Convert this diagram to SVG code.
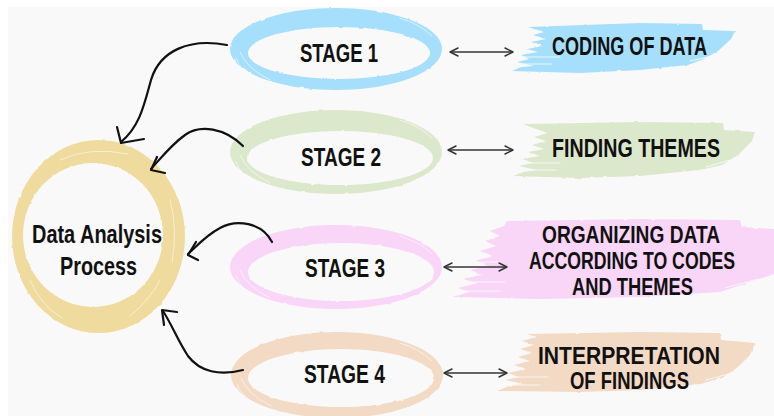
<svg xmlns="http://www.w3.org/2000/svg" width="774" height="416" viewBox="0 0 774 416">
  <defs>
    <style>
      .t { font-family: "Liberation Sans Narrow", "Liberation Sans", "DejaVu Sans", sans-serif; font-weight: bold; fill: #111; }
      .st { font-size: 26px; }
      .lb { font-size: 25px; }
      .ml { font-size: 23px; }
      .ctr { font-size: 25px; }
      .curve { fill: none; stroke: #111; stroke-width: 2.2; stroke-linecap: round; stroke-linejoin: round; }
      .dbl { fill: none; stroke: #333; stroke-width: 1.4; marker-start: url(#chev); marker-end: url(#chev); }
      .streak { stroke: #f9f9f9; stroke-width: 1.2; stroke-linecap: round; opacity: 0.85; }
      .bristle { fill: none; stroke: #ffffff; stroke-width: 1; stroke-linecap: round; opacity: 0.55; }
    </style>
    <filter id="rough" x="-5%" y="-10%" width="110%" height="120%">
      <feTurbulence type="fractalNoise" baseFrequency="0.12" numOctaves="2" seed="4" result="n"/>
      <feDisplacementMap in="SourceGraphic" in2="n" scale="2.2" xChannelSelector="R" yChannelSelector="G"/>
    </filter>
    <marker id="chev" viewBox="0 0 10 10" refX="9" refY="5" markerWidth="10" markerHeight="10" markerUnits="userSpaceOnUse" orient="auto-start-reverse">
      <path d="M1,1 L9,5 L1,9" fill="none" stroke="#333" stroke-width="1.4" stroke-linecap="round" stroke-linejoin="round"/>
    </marker>
  </defs>

  <!-- canvas -->
  <rect x="0" y="0" width="774" height="416" fill="#ffffff"/>
  <rect x="8" y="7" width="766" height="409" fill="#f9f9f9"/>

  <!-- centre ring -->
  <g id="process">
    <path filter="url(#rough)" fill="#efdb9d" fill-rule="evenodd"
      d="M12,236.5 a86.5,96.5 0 1,0 173,0 a86.5,96.5 0 1,0 -173,0 Z M23,235 a70,72 0 1,0 140,0 a70,72 0 1,0 -140,0 Z"/>
    <path class="bristle" d="M30,280 Q40,305 62,318 M170,200 Q178,230 172,262 M60,160 Q90,146 128,154 M160,280 Q150,300 130,316"/>
    <text class="t ctr" x="32" y="243" textLength="130" lengthAdjust="spacingAndGlyphs">Data Analysis</text>
    <text class="t ctr" x="60" y="275" textLength="77" lengthAdjust="spacingAndGlyphs">Process</text>
  </g>

  <!-- stage ovals -->
  <g id="stage1">
    <path filter="url(#rough)" fill="#a6dffb" fill-rule="evenodd"
      d="M230,49 a106,41 0 1,0 212,0 a106,41 0 1,0 -212,0 Z M248,53 a91,26 0 1,0 182,0 a91,26 0 1,0 -182,0 Z"/>
    <path class="bristle" d="M236,58 Q240,72 262,82 M240,52 Q246,68 270,80 M400,18 Q420,24 432,36"/>
    <text class="t st" x="300" y="62" textLength="78" lengthAdjust="spacingAndGlyphs">STAGE 1</text>
  </g>

  <g id="stage2">
    <path filter="url(#rough)" fill="#dce8cc" fill-rule="evenodd"
      d="M230,152 a106,42 0 1,0 212,0 a106,42 0 1,0 -212,0 Z M247,158 a93,27 0 1,0 186,0 a93,27 0 1,0 -186,0 Z"/>
    <path class="bristle" d="M236,162 Q240,176 262,186 M240,155 Q246,171 270,183 M400,120 Q420,126 432,138"/>
    <text class="t st" x="301" y="166" textLength="80" lengthAdjust="spacingAndGlyphs">STAGE 2</text>
  </g>

  <g id="stage3">
    <path filter="url(#rough)" fill="#f9d5f7" fill-rule="evenodd"
      d="M230,267 a106,42 0 1,0 212,0 a106,42 0 1,0 -212,0 Z M248,272 a93,29 0 1,0 186,0 a93,29 0 1,0 -186,0 Z"/>
    <path class="bristle" d="M236,276 Q240,290 262,300 M240,270 Q246,286 270,298 M400,236 Q420,242 432,254"/>
    <text class="t st" x="305" y="277" textLength="80" lengthAdjust="spacingAndGlyphs">STAGE 3</text>
  </g>

  <g id="stage4">
    <path filter="url(#rough)" fill="#f2dac5" fill-rule="evenodd"
      d="M231,375 a106,43 0 1,0 212,0 a106,43 0 1,0 -212,0 Z M248,378 a93,29 0 1,0 186,0 a93,29 0 1,0 -186,0 Z"/>
    <path class="bristle" d="M237,384 Q241,398 263,408 M241,378 Q247,394 271,406 M400,343 Q420,349 432,361"/>
    <text class="t st" x="304" y="383" textLength="81" lengthAdjust="spacingAndGlyphs">STAGE 4</text>
  </g>

  <!-- brush-stroke labels -->
  <g id="label1">
    <path filter="url(#rough)" fill="#a6dffb"
      d="M528,27 L640,23 L702,24 L703,30 L735,31 L731,39 L718,51 L704,59 L688,65 L640,70 L580,73 L512,71 L521,67 L534,66 L517,62 L530,59 L521,55 L538,52 L527,49 L543,46 L531,42 L546,39 L533,35 L544,32 Z"/>
    <path class="streak" d="M514,64 L552,64 M524,57 L560,57 M706,28 L724,28 M690,61 L712,56"/>
    <text class="t lb" x="552" y="55" textLength="155" lengthAdjust="spacingAndGlyphs">CODING OF DATA</text>
  </g>

  <g id="label2">
    <path filter="url(#rough)" fill="#dce8cc"
      d="M523,124 L640,122 L723,123 L724,130 L755,132 L752,141 L738,155 L722,165 L700,170 L640,176 L580,178 L513,176 L524,172 L537,170 L519,166 L533,163 L522,159 L540,156 L528,152 L544,149 L532,145 L546,141 L534,137 L548,133 L536,129 Z"/>
    <path class="streak" d="M516,170 L556,170 M526,163 L560,163 M727,127 L744,127 M706,167 L730,160"/>
    <text class="t lb" x="552" y="157" textLength="168" lengthAdjust="spacingAndGlyphs">FINDING THEMES</text>
  </g>

  <g id="label3">
    <path filter="url(#rough)" fill="#f9d5f7"
      d="M507,221 L640,219 L740,220 L742,227 L774,229 L774,274 L750,282 L720,292 L640,297 L540,299 L452,297 L470,292 L458,288 L478,283 L462,279 L482,275 L470,270 L488,266 L476,261 L492,256 L480,251 L496,246 L485,241 L500,236 L490,231 L504,226 Z"/>
    <path class="streak" d="M456,291 L500,291 M466,282 L505,282 M470,262 L500,262 M744,224 L770,224 M725,288 L758,279"/>
    <text class="t ml" x="542" y="243" textLength="178" lengthAdjust="spacingAndGlyphs">ORGANIZING DATA</text>
    <text class="t ml" x="529" y="269" textLength="206" lengthAdjust="spacingAndGlyphs">ACCORDING TO CODES</text>
    <text class="t ml" x="572" y="295" textLength="121" lengthAdjust="spacingAndGlyphs">AND THEMES</text>
  </g>

  <g id="label4">
    <path filter="url(#rough)" fill="#f2dac5"
      d="M527,334 L640,332 L720,333 L721,340 L755,343 L752,353 L738,367 L722,378 L700,384 L640,390 L580,392 L497,391 L509,386 L523,384 L505,380 L519,377 L508,373 L526,369 L514,365 L530,361 L518,357 L532,353 L520,349 L534,345 L522,341 L536,337 Z"/>
    <path class="streak" d="M500,385 L540,385 M512,377 L548,377 M724,338 L746,338 M706,380 L732,373"/>
    <text class="t ml" x="538" y="364" textLength="182" lengthAdjust="spacingAndGlyphs">INTERPRETATION</text>
    <text class="t ml" x="570" y="389" textLength="119" lengthAdjust="spacingAndGlyphs">OF FINDINGS</text>
  </g>

  <!-- connectors -->
  <g id="connectors">
    <path class="curve" d="M227,45 C190,38 160,50 151,80 C144,105 140,126 121,142"/>
    <polyline class="curve" points="117,127 121,143 144,139"/>

    <path class="curve" d="M243,146 C225,128 200,124 185,135 C171,145 161,158 151,169"/>
    <polyline class="curve" points="157,157 151,170 165,173"/>

    <path class="curve" d="M272,242 C262,222 236,219 220,228 C205,236 196,247 188,254"/>
    <polyline class="curve" points="196,242 188,255 198,260"/>

    <path class="curve" d="M243,370 C220,376 200,372 188,356 C178,341 172,325 163,311"/>
    <polyline class="curve" points="164,325 162,310 177,312"/>

    <line class="dbl" x1="450" y1="52" x2="513" y2="52"/>
    <line class="dbl" x1="448" y1="150" x2="513" y2="150"/>
    <line class="dbl" x1="444" y1="267" x2="507" y2="267"/>
    <line class="dbl" x1="444" y1="373" x2="507" y2="373"/>
  </g>
</svg>
